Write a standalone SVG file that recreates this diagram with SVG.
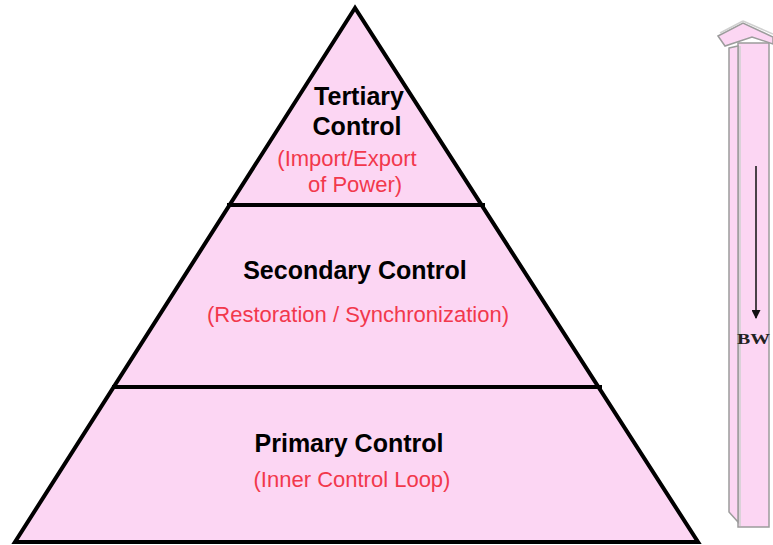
<svg xmlns="http://www.w3.org/2000/svg" width="773" height="545" viewBox="0 0 773 545">
  <defs>
    <style>
      .fill { fill: #fcd6f3; }
      .edge { stroke: #000; stroke-width: 4; fill: none; stroke-linecap: square; }
      .title { font-family: "Liberation Sans", Arial, sans-serif; font-weight: bold; font-size: 25px; fill: #000; text-anchor: middle; }
      .sub { font-family: "Liberation Sans", Arial, sans-serif; font-size: 22px; fill: #f2384c; text-anchor: middle; }
      .col { fill: #fcd6f3; stroke: #9c9c9c; stroke-width: 1.5; }
      .shade { fill: none; stroke: #d0d0d0; stroke-width: 1.5; }
      .bw { font-family: "Liberation Serif", "Times New Roman", serif; font-weight: bold; font-size: 15px; fill: #222; }
    </style>
    <marker id="arrowhead" viewBox="0 0 10 10" refX="9" refY="5" markerWidth="14" markerHeight="9" markerUnits="userSpaceOnUse" orient="auto">
      <path d="M0,0 L10,5 L0,10 Z" fill="#111"/>
    </marker>
  </defs>

  <!-- pyramid body -->
  <g id="pyramid">
    <polygon class="fill" points="355,8 15,542 698,542"/>
    <polygon class="edge" points="355,8 15,542 698,542" stroke-linejoin="miter"/>
  </g>

  <!-- tier dividers -->
  <g id="dividers">
    <line class="edge" x1="229" y1="205" x2="483" y2="205"/>
    <line class="edge" x1="114" y1="387" x2="600" y2="387"/>
  </g>

  <g id="tertiary">
    <text class="title" x="359" y="105">Tertiary</text>
    <text class="title" x="357" y="135">Control</text>
    <text class="sub" x="347" y="166">(Import/Export</text>
    <text class="sub" x="355" y="192">of Power)</text>
  </g>

  <g id="secondary">
    <text class="title" x="355" y="279">Secondary Control</text>
    <text class="sub" x="358" y="322">(Restoration / Synchronization)</text>
  </g>

  <g id="primary">
    <text class="title" x="349" y="452">Primary Control</text>
    <text class="sub" x="352" y="487">(Inner Control Loop)</text>
  </g>

  <!-- bandwidth column -->
  <g id="bandwidth-column">
    <polygon class="col" points="738,43 769,43 769,527 738,527"/>
    <line class="shade" x1="740" y1="46" x2="740" y2="526"/>
    <polygon class="col" points="729,48 738,46 738,522 729,512"/>
    <polygon class="col" points="718,36 743,23 773,37 773,44 752,37 725,46"/>
    <line class="shade" x1="720" y1="33" x2="743" y2="21"/>
    <line class="shade" x1="743" y1="21" x2="773" y2="34"/>
  </g>

  <g id="connectors">
    <line x1="756" y1="166" x2="756" y2="318" stroke="#111" stroke-width="1.5" marker-end="url(#arrowhead)"/>
  </g>

  <g id="bw-label">
    <text class="bw" x="737" y="344" textLength="33" lengthAdjust="spacingAndGlyphs">BW</text>
  </g>
</svg>
